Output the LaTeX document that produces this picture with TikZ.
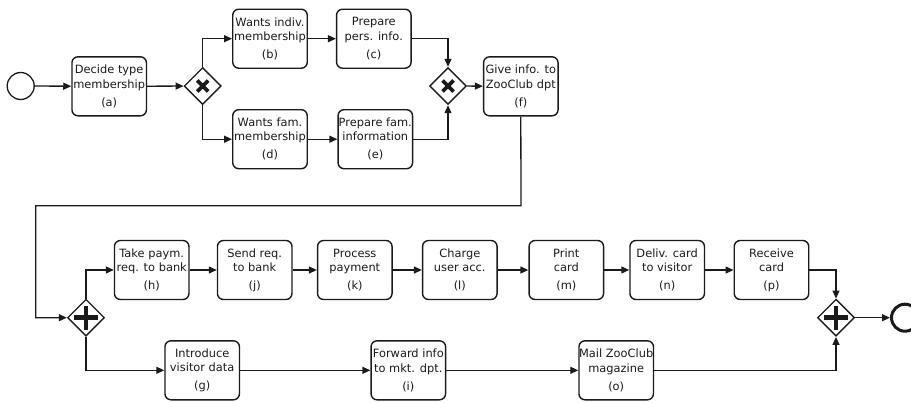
\documentclass[tikz,border=0pt]{standalone}
\usepackage{fontspec}
\setmainfont{DejaVu Sans}
\usepackage{tikz}
\usetikzlibrary{calc}
\usetikzlibrary{shapes.geometric}
\usetikzlibrary{arrows.meta}

\definecolor{ink}{HTML}{1A1A1A}

\tikzset{
  task/.style={draw=ink, line width=1.4pt, rounded corners=6pt, rectangle,
    minimum width=74.5pt, minimum height=59pt, inner sep=0pt, align=center,
    text=ink, font=\fontsize{11.4}{14.3}\selectfont,
    execute at begin node={\rule{0pt}{13.5pt}}},
  gate/.style={draw=ink, line width=1.4pt, diamond, aspect=1,
    minimum width=37pt, minimum height=37pt, inner sep=0pt},
  flow/.style={draw=ink, line width=1.3pt, -{Triangle[length=8pt,width=7pt]}},
}

\begin{document}
\begin{tikzpicture}[x=1pt, y=-1pt]
            \useasboundingbox (0,0) rectangle (911,402);

            % Events
            \node[circle, draw=ink, line width=1.3pt, minimum size=27pt, inner sep=0pt] (S) at (20.7,86) {};
            \node[circle, draw=ink, line width=3pt, minimum size=27pt, inner sep=0pt] (E) at (905,317.7) {};

            % First part: choose membership
            \node[task] (Ta) at (109.2,86.3) {Decide type\\membership\\[3.7pt](a)};
            \node[gate] (GX1) at (202.7,86) {};
            \node[task] (Tb) at (270,38.7) {Wants indiv.\\membership\\[3.7pt](b)};
            \node[task] (Tc) at (373.8,38.7) {Prepare\\pers. info.\\[3.7pt](c)};
            \node[task] (Td) at (270,139.2) {Wants fam.\\membership\\[3.7pt](d)};
            \node[task] (Te) at (375.3,139.2) {Prepare fam.\\information\\[3.7pt](e)};
            \node[gate] (GX2) at (448,86) {};
            \node[task] (Tf) at (520.8,86.3) {Give info. to\\ZooClub dpt\\[3.7pt](f)};

            % Second part: parallel branches
            \node[gate] (GP1) at (86,317.7) {};
            \node[task] (Th) at (151.7,270) {Take paym.\\req. to bank\\[3.7pt](h)};
            \node[task] (Tj) at (254.7,270) {Send req.\\to bank\\[3.7pt](j)};
            \node[task] (Tk) at (354.8,270) {Process\\payment\\[3.7pt](k)};
            \node[task] (Tl) at (459.8,270) {Charge\\user acc.\\[3.7pt](l)};
            \node[task] (Tm) at (566.3,270) {Print\\card\\[3.7pt](m)};
            \node[task] (Tn) at (667.2,270) {Deliv. card\\to visitor\\[3.7pt](n)};
            \node[task] (Tp) at (771.5,270) {Receive\\card\\[3.7pt](p)};
            \node[task] (Tg) at (202.2,370.3) {Introduce\\visitor data\\[3.7pt](g)};
            \node[task] (Ti) at (408.3,370.3) {Forward info\\to mkt. dpt.\\[3.7pt](i)};
            \node[task] (To) at (616.2,370.3) {Mail ZooClub\\magazine\\[3.7pt](o)};
            \node[gate] (GP2) at (836,317.7) {};

            % Gateway marks
            \foreach \g in {GX1,GX2}
              \draw[ink, line width=3.8pt] ($(\g)+(-5.5,-5.5)$) -- ($(\g)+(5.5,5.5)$)
                                           ($(\g)+(-5.5,5.5)$) -- ($(\g)+(5.5,-5.5)$);
            \foreach \g in {GP1,GP2}
              \draw[ink, line width=4.6pt] ($(\g)+(-12,0)$) -- ($(\g)+(12,0)$)
                                           ($(\g)+(0,-12)$) -- ($(\g)+(0,12)$);

            % Sequence flows
            \coordinate (K1) at (521,205.7);
            \coordinate (K2) at (35.7,205.7);
            \draw[flow] (S) -- (Ta);
            \draw[flow] (Ta) -- (GX1);
            \draw[flow] (GX1.north) |- (Tb.west);
            \draw[flow] (GX1.south) |- (Td.west);
            \draw[flow] (Tb) -- (Tc);
            \draw[flow] (Td) -- (Te);
            \draw[flow] (Tc.east) -| (GX2.north);
            \draw[flow] (Te.east) -| (GX2.south);
            \draw[flow] (GX2) -- (Tf);
            \draw[flow] (Tf.south) -- (K1) -- (K2) |- (GP1.west);
            \draw[flow] (GP1.north) |- (Th.west);
            \draw[flow] (GP1.south) |- (Tg.west);
            \draw[flow] (Th) -- (Tj);
            \draw[flow] (Tj) -- (Tk);
            \draw[flow] (Tk) -- (Tl);
            \draw[flow] (Tl) -- (Tm);
            \draw[flow] (Tm) -- (Tn);
            \draw[flow] (Tn) -- (Tp);
            \draw[flow] (Tp.east) -| (GP2.north);
            \draw[flow] (Tg) -- (Ti);
            \draw[flow] (Ti) -- (To);
            \draw[flow] (To.east) -| (GP2.south);
            \draw[flow] (GP2) -- (E);

\end{tikzpicture}
\end{document}
